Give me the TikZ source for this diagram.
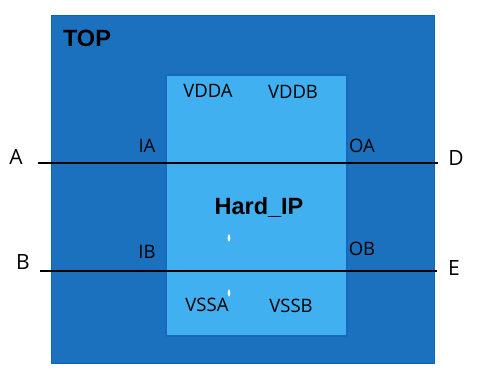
\documentclass[tikz,border=0pt]{standalone}
\usepackage{fontspec}
\setmainfont{Open Sans}
\newfontfamily\headfont{Liberation Sans}
\definecolor{topfill}{RGB}{28,113,190}
\definecolor{topline}{RGB}{8,98,194}
\definecolor{ipfill}{RGB}{64,176,240}
\definecolor{ipline}{RGB}{22,105,190}

\begin{document}
\begin{tikzpicture}[line cap=round,line join=round,x=1pt,y=-1pt,
  pin/.style={inner sep=0pt,font=\fontsize{18.5}{20}\selectfont},
  port/.style={inner sep=0pt,font=\fontsize{21}{23}\selectfont},
  head/.style={inner sep=0pt,font=\headfont\bfseries\fontsize{23.5}{26}\selectfont},
  wire/.style={line width=1.6pt,line cap=butt}]

\useasboundingbox (0,0) rectangle (492,386);

\draw [fill=topfill,draw=topline,line width=1pt] (51,15) rectangle (434,363);
\draw [fill=ipfill,draw=ipline,line width=1.6pt] (166,75) rectangle (347,336);

\node[head] (top) at (87,38) {TOP};
\node[head] (hardip) at (259,207) {Hard\_IP};

\node[pin] (vdda) at (208,91) {VDDA};
\node[pin] (vddb) at (293,92) {VDDB};
\node[pin] (vssa) at (207,305) {VSSA};
\node[pin] (vssb) at (291,306) {VSSB};
\node[pin] (ia) at (147,146) {IA};
\node[pin] (oa) at (362,146) {OA};
\node[pin] (ib) at (147,252) {IB};
\node[pin] (ob) at (362,249) {OB};

\coordinate (a1) at (38,163);
\coordinate (d1) at (438,163);
\coordinate (b1) at (40,271);
\coordinate (e1) at (437,271);
\node[port] (A) at (16,157) {A};
\node[port] (D) at (456,158) {D};
\node[port] (B) at (23,262) {B};
\node[port] (E) at (454,268) {E};

\draw [wire] (a1) -- (d1);
\draw [wire] (b1) -- (e1);

\fill [white] (229,238) ellipse (1.3 and 3.6);
\fill [white] (229,293) ellipse (1.3 and 3.6);

\end{tikzpicture}
\end{document}
